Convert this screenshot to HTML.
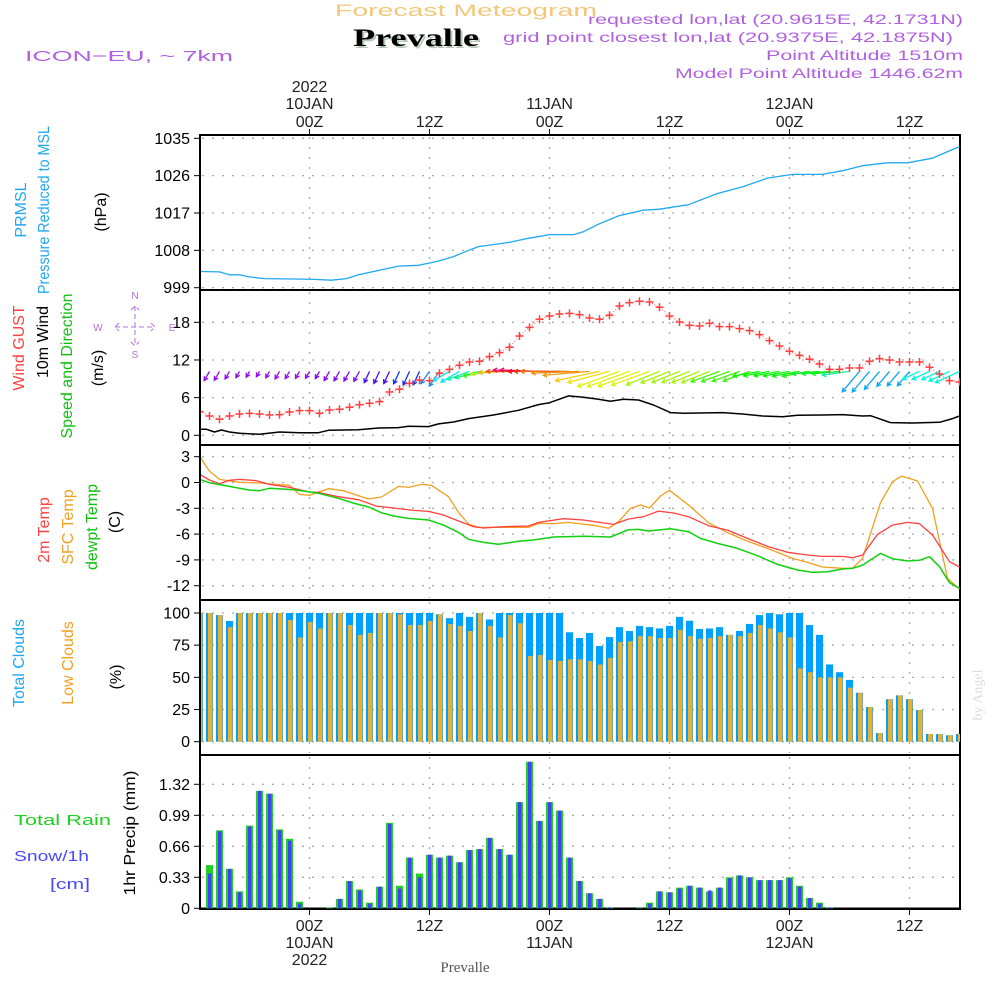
<!DOCTYPE html>
<html><head><meta charset="utf-8"><style>
html,body{margin:0;padding:0;background:#fff;}
svg{display:block;font-family:"Liberation Sans",sans-serif;}
</style></head><body>
<svg id="c" width="1000" height="1000" viewBox="0 0 1000 1000" xmlns="http://www.w3.org/2000/svg">
<defs><clipPath id="pc"><rect x="201" y="135" width="759" height="775"/></clipPath></defs>
<text x="335" y="16" font-size="17" fill="#f2c77a" textLength="262" lengthAdjust="spacingAndGlyphs">Forecast Meteogram</text>
<text x="355" y="48" font-size="25" font-weight="bold" font-family="Liberation Serif,serif" fill="#b8c8b8" textLength="126" lengthAdjust="spacingAndGlyphs">Prevalle</text>
<text x="353" y="46" font-size="25" font-weight="bold" font-family="Liberation Serif,serif" fill="#000" textLength="126" lengthAdjust="spacingAndGlyphs">Prevalle</text>
<text x="25" y="61" font-size="15" fill="#b060e0" textLength="208" lengthAdjust="spacingAndGlyphs">ICON−EU,  ~  7km</text>
<g fill="#b060e0" font-size="14" text-anchor="end">
<text x="963" y="24" textLength="375" lengthAdjust="spacingAndGlyphs">requested lon,lat (20.9615E, 42.1731N)</text>
<text x="953" y="42" textLength="450" lengthAdjust="spacingAndGlyphs">grid point closest lon,lat (20.9375E, 42.1875N)</text>
<text x="963" y="60" textLength="197" lengthAdjust="spacingAndGlyphs">Point Altitude 1510m</text>
<text x="963" y="78" textLength="288" lengthAdjust="spacingAndGlyphs">Model Point Altitude 1446.62m</text>
</g>
<g id="axes"></g>
<g id="plots" clip-path="url(#pc)"></g>
<g id="labels" font-size="16">
<text transform="translate(26,210) rotate(-90)" text-anchor="middle" fill="#20a8f0">PRMSL</text>
<text transform="translate(49,210) rotate(-90)" text-anchor="middle" fill="#20a8f0" textLength="168" lengthAdjust="spacingAndGlyphs">Pressure Reduced to MSL</text>
<text transform="translate(106,212) rotate(-90)" text-anchor="middle" fill="#000">(hPa)</text>
<text transform="translate(24,348) rotate(-90)" text-anchor="middle" fill="#ff4040">Wind GUST</text>
<text transform="translate(48,342) rotate(-90)" text-anchor="middle" fill="#000">10m Wind</text>
<text transform="translate(72,366) rotate(-90)" text-anchor="middle" fill="#10c010" textLength="145" lengthAdjust="spacingAndGlyphs">Speed and Direction</text>
<text transform="translate(103,368) rotate(-90)" text-anchor="middle" fill="#000">(m/s)</text>
<g fill="#b070e0" font-size="10" stroke="none">
<text x="135" y="299" text-anchor="middle">N</text><text x="135" y="358" text-anchor="middle">S</text>
<text x="98" y="331" text-anchor="middle">W</text><text x="172" y="331" text-anchor="middle">E</text>
<path d="M115 327h40M135 306v40M119 323l-4 4 4 4M151 323l4 4-4 4M131 310l4-4 4 4M131 342l4 4 4-4" stroke="#b070e0" stroke-dasharray="5,3" fill="none"/>
</g>
<text transform="translate(49,530) rotate(-90)" text-anchor="middle" fill="#ff4040">2m Temp</text>
<text transform="translate(73,527) rotate(-90)" text-anchor="middle" fill="#f0a020">SFC Temp</text>
<text transform="translate(97,527) rotate(-90)" text-anchor="middle" fill="#10c010">dewpt Temp</text>
<text transform="translate(120,522) rotate(-90)" text-anchor="middle" fill="#000">(C)</text>
<text transform="translate(24,663) rotate(-90)" text-anchor="middle" fill="#20a8f0">Total Clouds</text>
<text transform="translate(73,663) rotate(-90)" text-anchor="middle" fill="#f0a020">Low Clouds</text>
<text transform="translate(121,677) rotate(-90)" text-anchor="middle" fill="#000">(%)</text>
<text x="14" y="825" font-size="15" fill="#20d020" textLength="97" lengthAdjust="spacingAndGlyphs">Total   Rain</text>
<text x="14" y="861" font-size="15" fill="#4848ff" textLength="75" lengthAdjust="spacingAndGlyphs">Snow/1h</text>
<text x="50" y="889" font-size="15" fill="#4848ff" textLength="40" lengthAdjust="spacingAndGlyphs">[cm]</text>
<text transform="translate(135,833) rotate(-90)" text-anchor="middle" fill="#000" textLength="125" lengthAdjust="spacingAndGlyphs">1hr Precip (mm)</text>
<text x="465" y="972" font-size="15" font-family="Liberation Serif,serif" fill="#555" text-anchor="middle">Prevalle</text>
<text transform="translate(982,695) rotate(-90)" text-anchor="middle" font-size="14" font-family="Liberation Serif,serif" fill="#ddd">by Angel</text>
</g>
</svg>
<script>
// ---- data ----
const presHours=[-11,-9,-8,-7,-6,-4.5,-1.5,0.45,2.2,3.7,4.9,7.4,8.9,10.9,12.9,14.4,15.7,16.9,19.9,21.9,24,26.4,27.4,28.9,30.9,33.4,34.9,37.9,40.8,43.3,45.8,48.3,51.3,53.3,55.3,57.8,59.8,62.3,63.8,65];
const presVals=[1002.9,1002.8,1002.1,1002.1,1001.6,1001.2,1001.1,1001.0,1000.8,1001.2,1002.1,1003.4,1004.2,1004.4,1005.4,1006.5,1007.8,1008.9,1009.9,1010.9,1011.8,1011.8,1012.5,1014.3,1016.3,1017.7,1017.9,1019.0,1021.7,1023.3,1025.4,1026.3,1026.3,1027.2,1028.4,1029.1,1029.1,1030.2,1031.8,1033.0];
const presTicks=[999,1008,1017,1026,1035];
const gustStart=-11;
const gustVals=[3.77,3.08,2.55,3.08,3.40,3.50,3.40,3.24,3.29,3.72,3.93,3.93,3.50,4.04,4.14,4.46,4.89,5.10,5.36,6.90,7.33,8.28,8.81,8.71,9.88,10.51,11.15,11.68,11.79,12.53,13.17,14.02,15.82,17.20,18.48,19.01,19.33,19.43,19.22,18.69,18.48,19.12,20.60,21.13,21.35,21.24,20.39,19.01,18.05,17.52,17.42,17.84,17.31,17.31,16.99,16.67,16.04,15.08,14.23,13.38,12.74,12.11,11.36,10.51,10.51,10.73,10.73,11.79,12.21,12.00,11.68,11.68,11.68,10.83,9.77,8.71,8.50];
const windHours=[-11,-10.3,-9.5,-8.8,-8,-7,-5,-3,-1,0.9,1.9,4.9,6.9,8.9,9.9,11.9,12.9,14.4,15.9,18.4,20.9,22.9,24,25.9,27.4,28.9,30.1,31.4,32.9,34.4,36.1,37.4,41.3,43.3,45.3,47.3,48.8,51.3,53.3,55.3,56.1,58.1,60.3,63,64.3,65];
const windVals=[0.96,0.96,0.53,0.85,0.53,0.32,0.16,0.53,0.42,0.42,0.80,0.90,1.17,1.22,1.43,1.38,1.81,2.12,2.66,3.24,3.98,4.89,5.20,6.27,6.05,5.73,5.42,5.73,5.63,4.83,3.61,3.50,3.61,3.40,3.08,2.97,3.19,3.24,3.29,3.08,3.13,2.02,1.96,2.07,2.66,3.08];
const dirStart=-11;
const windDir=[210,210,210,210,210,210,210,210,210,210,210,210,210,210,210,210,210,205,205,205,205,205,205,215,215,240,240,250,255,260,265,268,270,272,272,270,270,270,268,265,258,255,250,250,250,250,248,248,248,248,248,248,250,250,250,250,260,260,260,260,260,260,265,265,265,262,220,220,220,220,220,220,245,245,245,245,245];
const windHue=[275,275,275,275,275,275,275,275,275,275,275,275,270,270,270,270,270,255,255,255,230,230,230,205,205,185,185,165,150,110,75,45,20,335,340,355,10,25,32,38,50,55,65,65,65,65,80,80,80,80,80,80,105,105,105,105,120,120,120,120,120,120,125,125,125,160,200,200,200,200,200,200,175,175,175,175,175];
const windTicks=[0,6,12,18];
const t2Hours=[-11,-10,-9,-8,-7,-5.3,-4,-2,0,0.9,2.9,4.9,6.7,8.4,10.4,11.9,13.4,14.9,16.4,17.4,19.4,21.9,22.9,25.4,27.4,30.4,31.9,33.4,34.9,36.4,37.9,39.9,41.8,43.8,45.8,47.8,49.8,51.3,53.3,54.3,55.3,56.8,58.3,59.8,61,62.3,64,65];
const t2Vals=[0.95,0.29,-0.14,0.25,0.36,0.21,-0.22,-0.57,-1.11,-1.15,-1.65,-2.0,-2.74,-2.97,-3.24,-3.36,-3.78,-4.48,-5.14,-5.29,-5.14,-5.06,-4.64,-4.21,-4.36,-4.87,-4.25,-3.98,-3.32,-3.55,-3.98,-5.02,-5.53,-6.50,-7.43,-8.12,-8.43,-8.59,-8.59,-8.74,-8.43,-6.03,-4.95,-4.64,-4.79,-6.11,-9.21,-9.83];
const sfcHours=[-11,-10,-9,-7,-5,-3,-2,-1,0,0.9,1.9,3.4,5.9,7.2,8.9,9.9,11.2,12.2,13.9,14.9,15.9,16.9,19.4,21.9,22.9,24.4,25.9,28.4,29.9,30.9,32.1,33.1,34,35.1,36,37.9,39.9,41.8,43.8,45.8,48.3,49.8,51.3,53.3,54.3,55.3,57.1,58.3,59.2,60.8,62.3,63.8,65];
const sfcVals=[3.08,1.33,0.36,0.02,-0.06,-0.26,-0.33,-1.38,-1.50,-1.11,-0.72,-0.95,-1.92,-1.69,-0.45,-0.57,-0.22,-0.33,-1.65,-3.47,-4.83,-5.22,-5.22,-5.22,-4.75,-4.79,-4.64,-4.98,-5.33,-4.56,-3.01,-2.62,-2.97,-1.57,-0.91,-2.62,-4.67,-5.84,-6.81,-7.66,-8.82,-9.29,-9.83,-9.98,-9.98,-8.82,-2.35,0.09,0.75,0.17,-3.01,-11.15,-12.39];
const dewHours=[-11,-10,-8,-6,-5,-4,-1.5,0.9,2.9,4.4,5.9,7.2,8.4,9.9,11.9,13.4,14.9,15.9,17.4,18.9,20.9,22.4,24.4,27.4,30.1,31.9,32.9,33.9,36.1,37.9,39.1,40.8,42.8,44.8,46.8,48.8,50.3,51.8,53.3,54.3,55.3,57.1,58.3,59.8,61,62,63,64,65];
const dewVals=[0.36,-0.02,-0.45,-0.88,-0.95,-0.68,-0.84,-1.26,-1.84,-2.39,-2.85,-3.51,-3.90,-4.17,-4.36,-4.95,-5.80,-6.61,-6.96,-7.19,-6.84,-6.69,-6.34,-6.26,-6.34,-5.49,-5.45,-5.64,-5.37,-5.72,-6.50,-7.08,-7.66,-8.51,-9.52,-10.18,-10.45,-10.37,-10.06,-9.98,-9.60,-8.24,-8.86,-9.13,-9.05,-8.63,-9.79,-11.65,-12.31];
const tempTicks=[-12,-9,-6,-3,0,3];
const cloudStart=-11;
const totalClouds=[100,100,98.4,93.8,100,100,100,100,100,100,100,100,100,100,100,100,100,100,100,100,100,100,100,100,99,96,100,97,100,95,100,100,100,100,100,100,100,85,80.6,84.5,74.4,81.3,89,86,90,89,88,90,97,94,87.6,88,89,83,86,91.5,98.4,100,99,100,100,90.7,83,60,54,48,38,27,6.7,33,36,33,24.6,6,6,5,6];
const lowClouds=[100,100,98.4,89,100,100,100,100,100,94.6,81,93,88,100,100,90.7,83,84.5,100,100,99,90.7,90.7,93.8,99,91.5,90,86,100,90,81,98.4,92,66.6,67.4,63.5,62.7,64,64,62.7,60,65,77.5,78,82,82,80.6,80.6,87,82,80,80.6,82,83,82,84.5,90.7,88,85,81,57,54,50,50,50,42,38,27,6.7,33,36,33,24.6,6,6,5,6];
const cloudTicks=[0,25,50,75,100];
const precipStart=-10;
const rainVals=[0.46,0.83,0.42,0.18,0.88,1.25,1.22,0.84,0.74,0.07,0,0,0.01,0.10,0.29,0.20,0.06,0.23,0.91,0.24,0.54,0.37,0.57,0.54,0.56,0.49,0.62,0.63,0.75,0.63,0.57,1.13,1.56,0.93,1.13,1.04,0.54,0.29,0.16,0.10,0.01,0,0,0.005,0.06,0.18,0.17,0.22,0.24,0.22,0.18,0.22,0.33,0.35,0.33,0.30,0.30,0.30,0.33,0.24,0.11,0.06,0.01,0,0,0,0,0,0,0,0,0,0,0,0,0];
const snowVals=[0.37,0.82,0.42,0.17,0.87,1.25,1.22,0.83,0.72,0.05,0,0,0.005,0.10,0.29,0.19,0.05,0.23,0.90,0.21,0.54,0.33,0.57,0.54,0.56,0.49,0.62,0.63,0.75,0.63,0.57,1.13,1.56,0.93,1.13,1.04,0.54,0.29,0.16,0.10,0.01,0,0,0.005,0.05,0.18,0.17,0.21,0.24,0.22,0.19,0.22,0.32,0.35,0.33,0.30,0.30,0.30,0.32,0.23,0.11,0.05,0.01,0,0,0,0,0,0,0,0,0,0,0,0,0];
const precipTicks=[0,0.33,0.66,0.99,1.32];
const timeTicks=[0,12,24,36,48,60];
const timeLabels=["00Z","12Z","00Z","12Z","00Z","12Z"];
const dayLabels=["10JAN","","11JAN","","12JAN",""];
// ---- scales ----
const NS="http://www.w3.org/2000/svg";
const X=h=>309.5+10*h;
const yP=v=>287.7-(v-999)*149.4/36;
const yW=v=>435.3-v*113/18;
const yT=v=>456.7+(3-v)*129/15;
const yC=v=>741.7-v*1.287;
const yR=v=>908.3-v*31/0.33;
const axes=document.getElementById('axes'), plots=document.getElementById('plots');
function mk(tag,at,par){const e=document.createElementNS(NS,tag);for(const k in at)e.setAttribute(k,at[k]);(par||plots).appendChild(e);return e;}
const panels=[[135,290,presTicks,yP],[290,445,windTicks,yW],[445,600,tempTicks,yT],[600,755,cloudTicks,yC],[755,909,precipTicks,yR]];
panels.forEach((p,pi)=>{
  p[2].forEach(t=>{
    const y=p[3](t);
    const g=mk('line',{x1:202,x2:960,y1:y,y2:y,stroke:'#aaa','stroke-width':1.3,'stroke-dasharray':'2,8'},axes);
    
    
    mk('line',{x1:194,x2:200,y1:y,y2:y,stroke:'#000'},axes);
    const tx=mk('text',{x:190,y:y+5.5,'text-anchor':'end','font-size':16,fill:'#000'},axes);
    tx.textContent=t;  
  });
  timeTicks.forEach(h=>{
    const g=mk('line',{x1:X(h),x2:X(h),y1:p[0]+2,y2:p[1]-2,stroke:'#aaa','stroke-width':1.3,'stroke-dasharray':'2,8'},axes);
    
    
  });
});
mk('rect',{x:200,y:135,width:760,height:774,fill:'none',stroke:'#000','stroke-width':2},axes);
[290,445,600,755].forEach(y=>mk('line',{x1:200,x2:960,y1:y,y2:y,stroke:'#000','stroke-width':2},axes));
timeTicks.forEach((h,i)=>{
  mk('line',{x1:X(h),x2:X(h),y1:129,y2:135,stroke:'#000'},axes);
  mk('line',{x1:X(h),x2:X(h),y1:909,y2:915,stroke:'#000'},axes);
  let t=mk('text',{x:X(h),y:127,'text-anchor':'middle','font-size':16,fill:'#222'},axes); t.textContent=timeLabels[i];
   
  t=mk('text',{x:X(h),y:931,'text-anchor':'middle','font-size':16,fill:'#222'},axes); t.textContent=timeLabels[i];
   
  if(dayLabels[i]){
    t=mk('text',{x:X(h),y:109,'text-anchor':'middle','font-size':16,fill:'#222'},axes); t.textContent=dayLabels[i];
     
    t=mk('text',{x:X(h),y:948,'text-anchor':'middle','font-size':16,fill:'#222'},axes); t.textContent=dayLabels[i];
     
  }
});
let yr=mk('text',{x:X(0),y:92,'text-anchor':'middle','font-size':16,fill:'#222'},axes); yr.textContent='2022';
 
yr=mk('text',{x:X(0),y:965,'text-anchor':'middle','font-size':16,fill:'#222'},axes); yr.textContent='2022';
 
function line(hs,vs,ys,col,w,name,extra){
  const d=hs.map((h,i)=>(i?'L':'M')+X(h).toFixed(1)+' '+ys(vs[i]).toFixed(1)).join('');
  const p=mk('path',Object.assign({d:d,fill:'none',stroke:col,'stroke-width':w,'stroke-linejoin':'round'},extra||{}));
  
  
  return p;
}
line(presHours,presVals,yP,'#20a8f0',1.3,'pressure-line');
function interp(hs,vs,h){if(h<=hs[0])return vs[0];for(let i=1;i<hs.length;i++){if(h<=hs[i]){const f=(h-hs[i-1])/(hs[i]-hs[i-1]);return vs[i-1]+f*(vs[i]-vs[i-1]);}}return vs[vs.length-1];}
windDir.forEach((d,i)=>{
  const h=dirStart+i, sp=interp(windHours,windVals,h);
  const L=5+sp*7, a=d*Math.PI/180;
  const x0=X(h), y0=yW(10.5)+2;
  const x1=x0+L*Math.sin(a), y1=y0-L*Math.cos(a);
  const col='hsl('+windHue[i]+',90%,50%)';
  const ang=Math.atan2(y1-y0,x1-x0);
  const hx=(s)=>x1-4.5*Math.cos(ang+s), hy=(s)=>y1-4.5*Math.sin(ang+s);
  const p=mk('path',{d:`M${x0.toFixed(1)} ${y0.toFixed(1)}L${x1.toFixed(1)} ${y1.toFixed(1)}M${hx(0.5).toFixed(1)} ${hy(0.5).toFixed(1)}L${x1.toFixed(1)} ${y1.toFixed(1)}L${hx(-0.5).toFixed(1)} ${hy(-0.5).toFixed(1)}`,stroke:col,'stroke-width':1.3,fill:'none'});
  
  
});
line(windHours,windVals,yW,'#000',1.5,'wind-speed-line');
line(gustVals.map((v,i)=>gustStart+i),gustVals,yW,'#ff6060',1,'gust-line',{'stroke-dasharray':'1,2'});
gustVals.forEach((v,i)=>{
  const x=X(gustStart+i),y=yW(v);
  const p=mk('path',{d:`M${x-4} ${y}h8M${x} ${y-4}v8`,stroke:'#ff4040','stroke-width':1.5});
  
  
});
line(sfcHours,sfcVals,yT,'#f0a020',1.3,'sfc-temp-line');
line(t2Hours,t2Vals,yT,'#ff4040',1.3,'temp-2m-line');
line(dewHours,dewVals,yT,'#10d010',1.5,'dewpoint-line');
totalClouds.forEach((v,i)=>{
  const x=X(cloudStart+i)-3.5;
  const b=mk('rect',{x:x,y:yC(v),width:7,height:yC(0)-yC(v),fill:'#00a0ff'});
  
  
  const lv=lowClouds[i];
  const o=mk('rect',{x:x+2,y:yC(lv),width:4.5,height:yC(0)-yC(lv),fill:'#e8b030'});
  
  
});
rainVals.forEach((v,i)=>{
  const x=X(precipStart+i)-3.5;
  const b=mk('rect',{x:x,y:yR(v),width:7,height:yR(0)-yR(v),fill:'#20d020'});
  
  
  const s=snowVals[i];
  const o=mk('rect',{x:x+2,y:yR(s),width:3.5,height:yR(0)-yR(s),fill:'#4040ff'});
  
  
});
mk('line',{x1:200,x2:960,y1:908.5,y2:908.5,stroke:'#000','stroke-width':2},axes);
</script>
</body></html>
